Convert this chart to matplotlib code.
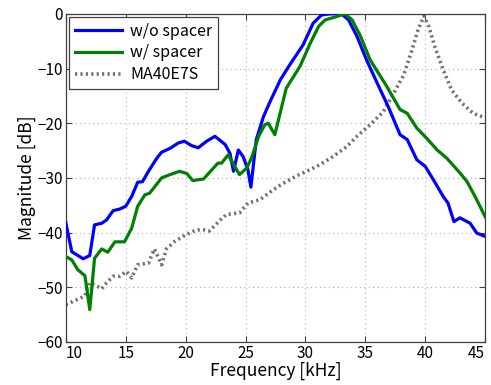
import matplotlib
matplotlib.use("Agg")
import matplotlib.pyplot as plt

plt.rcParams['font.family'] = ['Noto Sans CJK JP', 'DejaVu Sans']

f_wo = [10.0, 10.5, 11.45, 12.0, 12.4, 13.0, 13.4, 13.95, 14.5, 15.0, 15.5, 16.0, 16.4, 16.9,
        17.6, 18.0, 18.7, 19.4, 19.9, 20.5, 21.05, 21.75, 22.45, 23.3, 23.7, 24.0, 24.4, 24.8,
        25.2, 25.45, 25.9, 26.5, 27.0, 27.9, 28.7, 29.8, 30.65, 31.35, 32.05, 33.0, 33.6, 34.3,
        35.1, 36.0, 36.9, 37.9, 38.5, 39.3, 40.0, 40.7, 41.5, 41.9, 42.4, 42.9, 43.75, 44.3, 45.0]
m_wo = [-38.2, -43.5, -44.8, -44.2, -38.6, -38.3, -37.7, -36.0, -35.7, -35.2, -33.4, -30.8, -30.7, -28.8,
        -26.4, -25.3, -24.6, -23.6, -23.3, -24.1, -24.5, -23.3, -22.4, -23.9, -25.5, -28.8, -24.9, -26.1,
        -28.5, -31.7, -23.0, -18.8, -16.3, -12.1, -9.3, -5.7, -1.7, -0.2, 0.0, 0.0, -1.1, -4.1,
        -8.4, -12.7, -16.9, -22.1, -23.0, -26.7, -27.9, -30.4, -33.4, -34.6, -38.0, -37.3, -38.3, -40.1, -40.7]

f_w = [10.0, 10.5, 11.0, 11.6, 12.0, 12.4, 13.0, 13.5, 14.1, 14.9, 15.5, 16.0, 16.6, 17.0,
       18.0, 18.7, 19.5, 20.1, 20.6, 21.5, 22.2, 22.7, 23.0, 23.55, 24.5, 25.1, 25.5, 26.1,
       26.6, 26.9, 27.45, 28.4, 29.55, 30.4, 31.1, 31.65, 32.6, 33.3, 33.9, 34.6, 35.4, 36.0,
       36.8, 37.9, 38.5, 39.3, 40.1, 41.0, 41.8, 42.9, 43.5, 44.3, 45.0]
m_w = [-44.4, -45.0, -46.8, -47.9, -54.1, -44.7, -43.0, -43.6, -41.7, -41.7, -39.2, -35.2, -33.1, -32.8,
       -30.0, -29.4, -28.8, -29.2, -30.5, -30.2, -28.5, -27.3, -27.3, -25.8, -29.4, -28.2, -26.4, -22.4,
       -20.3, -20.0, -22.1, -13.6, -9.6, -5.4, -2.3, -1.1, -0.5, 0.0, -1.1, -4.1, -8.4, -10.5,
       -13.3, -17.5, -18.2, -20.9, -22.7, -24.9, -26.4, -29.1, -30.7, -34.0, -37.1]

f_ma = [10.0, 10.9, 11.6, 12.0, 12.6, 13.0, 13.4, 13.95, 14.5, 15.05, 15.5, 16.0, 16.9, 17.4,
        18.0, 18.4, 19.1, 19.8, 20.6, 21.3, 22.0, 22.9, 23.4, 24.5, 25.2, 26.2, 27.3, 28.15,
        29.3, 30.4, 31.2, 32.3, 33.45, 34.3, 35.4, 36.5, 37.3, 38.2, 38.9, 39.4, 39.9, 40.3,
        40.8, 41.5, 42.2, 43.05, 44.0, 45.0]
m_ma = [-53.2, -52.3, -51.6, -49.2, -49.8, -50.3, -49.2, -48.0, -48.0, -47.1, -48.3, -45.9, -45.6, -43.0,
        -45.9, -43.0, -41.6, -40.7, -39.8, -39.4, -39.7, -37.7, -36.7, -36.4, -34.6, -34.0, -32.2, -31.0,
        -29.6, -28.5, -27.6, -26.1, -24.3, -22.4, -20.3, -17.9, -14.8, -11.2, -6.6, -2.9, -0.4, -2.3,
        -6.0, -10.2, -13.9, -16.3, -18.2, -19.0]

xticks = [10, 15, 20, 25, 30, 35, 40, 45]
yticks = [-60, -50, -40, -30, -20, -10, 0]

fig = plt.figure(figsize=(4.91, 3.85), dpi=100)
ax = fig.add_axes([0.134, 0.112, 0.854, 0.852])

ax.plot(f_wo, m_wo, color='#0000ff', lw=2.3, label='w/o spacer', zorder=3)
ax.plot(f_w, m_w, color='#008000', lw=2.3, label='w/ spacer', zorder=3)
ax.plot(f_ma, m_ma, color='#707070', lw=2.6, ls=(0, (0.6, 0.9)), label='MA40E7S', zorder=2)

ax.set_xlim(10, 45)
ax.set_ylim(-60, 0)
ax.set_xticks(xticks)
ax.set_yticks(yticks)
ax.grid(True, ls=(0, (1, 3)), color='#b0b0b0', lw=0.8)
ax.tick_params(direction='in', top=True, right=True, labelsize=11, length=4, color='#404040')
ax.tick_params(axis='x', pad=2)
ax.tick_params(axis='y', pad=2)
xl = ax.get_xticklabels()
xl[0].set_horizontalalignment('left')
xl[-1].set_horizontalalignment('right')
for s in ax.spines.values():
    s.set_color('#404040')
    s.set_linewidth(0.9)
ax.set_xlabel('Frequency [kHz]', fontsize=12.5, labelpad=0)
ax.set_ylabel('Magnitude [dB]', fontsize=12.5, labelpad=1)

leg = ax.legend(loc='upper left', fontsize=11.5, frameon=True, fancybox=False,
                edgecolor='#404040', framealpha=1, borderaxespad=0.2,
                handlelength=3.0, handletextpad=0.5, labelspacing=0.3, borderpad=0.35)
leg.get_frame().set_linewidth(0.9)

fig.savefig('out.png', dpi=100)
